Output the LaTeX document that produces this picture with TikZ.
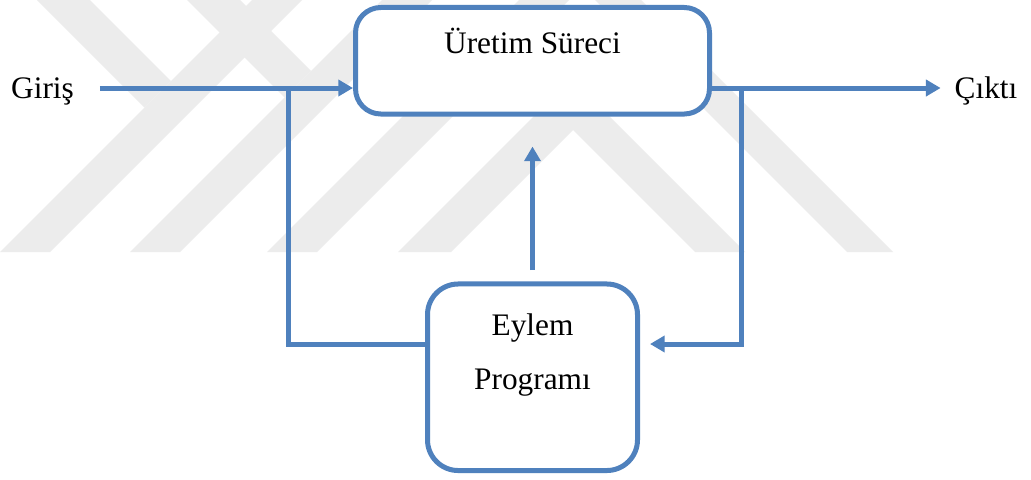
\documentclass[tikz,border=0pt]{standalone}
\usepackage{fontspec}
\setmainfont{Liberation Serif}
\usetikzlibrary{arrows.meta}
\definecolor{flow}{RGB}{79,129,189}
\definecolor{wmark}{RGB}{236,236,236}
\begin{document}
\begin{tikzpicture}[x=0.75pt,y=-0.75pt,
  box/.style={draw=flow, line width=3.75pt, fill=white, inner sep=0pt},
  lbl/.style={font=\fontsize{23.5}{28}\selectfont, inner sep=3.33pt, text=black},
  ln/.style={draw=flow, line width=3.75pt},
  arr/.style={ln, -{Triangle[length=11pt,width=12pt]}},
  band/.style={fill=wmark, draw=none}]
\fill[white] (0,0) rectangle (1031,479);
\useasboundingbox (0,0) rectangle (1031,479);
% faint watermark
\begin{scope}
  \clip (0,0) rectangle (1031,252);
  \fill[band] (252,0) -- (302,0) -- (50,252) -- (0,252) -- cycle;
  \fill[band] (382,0) -- (432,0) -- (180,252) -- (130,252) -- cycle;
  \fill[band] (37,0) -- (90,0) -- (171,81) -- (144.5,107.5) -- cycle;
  \fill[band] (187,0) -- (240,0) -- (311,71) -- (284.5,97.5) -- cycle;
  \fill[band] (267,252) -- (580,-61) -- (893,252) -- (847,252) -- (582,-13) -- (317,252) -- cycle;
  \fill[band] (398,252) -- (571.5,78.5) -- (745,252) -- (695,252) -- (573,130) -- (451,252) -- cycle;
\end{scope}
% boxes
\node[box, rounded corners=19pt, minimum width=265.5pt, minimum height=79.9pt] (top) at (532.5,60.75) {};
\node[box, rounded corners=23pt, minimum width=157.5pt, minimum height=139.9pt] (eylem) at (532.5,377.25) {};
% texts
\node[lbl, anchor=base] (ttop) at (532.5,53) {Üretim Süreci};
\node[lbl, anchor=base] (giris) at (42.5,98) {Giriş};
\node[lbl, anchor=base] (cikti) at (986,98) {Çıktı};
\node[lbl, anchor=base] (teylem) at (532.5,335) {Eylem};
\node[lbl, anchor=base] (tprog) at (532.5,389) {Programı};
% junctions
\coordinate (jl) at (288.5,88);
\coordinate (jr) at (741.5,88);
\coordinate (bl) at (288.5,344);
\coordinate (br) at (741.5,344);
\coordinate (lend) at (151,88);
\coordinate (rend) at (833,88);
% connectors
\draw[arr, shorten <=16pt] (giris.east |- jl) -- (jl -| top.west);
\draw[ln] (bl -| eylem.west) -- (bl) -- (jl) -- (lend);
\draw[arr, shorten >=7pt] (top.east |- jr) -- (cikti.west |- jr);
\draw[arr, shorten >=7.5pt] (rend) -- (jr) -- (br) -- (br -| eylem.east);
\draw[arr, shorten <=8.6pt, shorten >=22.5pt] (eylem.north) -- (top.south);
\end{tikzpicture}
\end{document}
